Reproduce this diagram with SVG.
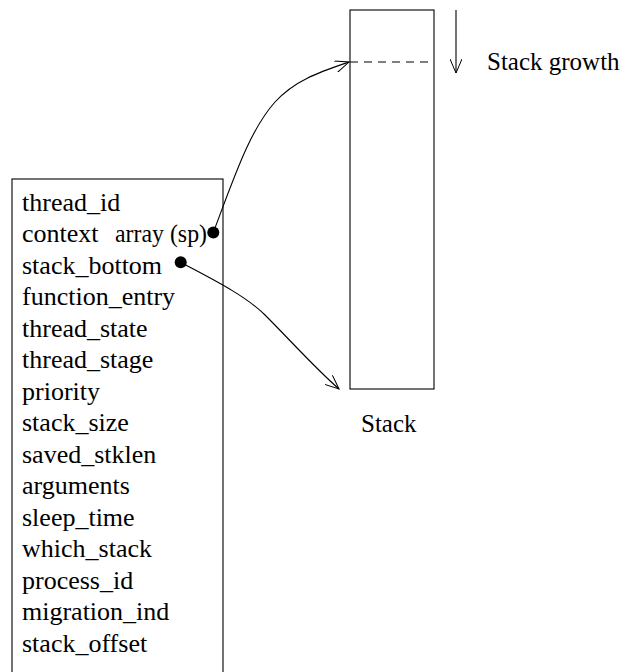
<svg xmlns="http://www.w3.org/2000/svg" width="624" height="672" viewBox="0 0 624 672">
<style>
text{font-family:"Liberation Serif","Times New Roman",serif;font-size:25px;fill:#000}
.f{font-size:26px}
.ln{fill:none;stroke:#000;stroke-width:1.1}
</style>
<defs>
<marker id="ah" markerWidth="16" markerHeight="12" refX="14" refY="6" orient="auto" markerUnits="userSpaceOnUse">
<path d="M0,0 L14,6 L0,12" fill="none" stroke="#000" stroke-width="1"/>
</marker>
</defs>
<rect width="624" height="672" fill="#fff"/>
<g id="thread-struct">
<rect x="12" y="179" width="211" height="510" class="ln"/>
<text class="f" x="22" y="210.5">thread_id</text>
<text class="f" x="22" y="242">context</text><text class="f" x="115" y="242" textLength="92" lengthAdjust="spacingAndGlyphs">array (sp)</text>
<text class="f" x="22" y="273.5">stack_bottom</text>
<text class="f" x="22" y="305">function_entry</text>
<text class="f" x="22" y="336.5">thread_state</text>
<text class="f" x="22" y="368">thread_stage</text>
<text class="f" x="22" y="399.5">priority</text>
<text class="f" x="22" y="431">stack_size</text>
<text class="f" x="22" y="462.5">saved_stklen</text>
<text class="f" x="22" y="494">arguments</text>
<text class="f" x="22" y="525.5">sleep_time</text>
<text class="f" x="22" y="557">which_stack</text>
<text class="f" x="22" y="588.5">process_id</text>
<text class="f" x="22" y="620">migration_ind</text>
<text class="f" x="22" y="651.5">stack_offset</text>
</g>
<g id="stack">
<rect x="350" y="10" width="84" height="379" class="ln"/>
<line x1="350" y1="62" x2="430" y2="62" class="ln" stroke-dasharray="8,6"/>
<text x="361" y="431.5">Stack</text>
</g>
<g id="growth">
<line x1="456" y1="10" x2="456" y2="73" class="ln" marker-end="url(#ah)"/>
<text x="487" y="70">Stack growth</text>
</g>
<g id="connectors">
<circle cx="213.3" cy="232.5" r="6" fill="#000"/>
<path d="M213.3,232.5 C235,175 250,130 275,102 C295,80 320,72 349,62" class="ln" marker-end="url(#ah)"/>
<circle cx="180.7" cy="262.3" r="6" fill="#000"/>
<path d="M180.7,262.3 C210,278 245,295 265,315 C290,340 315,368 339,389" class="ln" marker-end="url(#ah)"/>
</g>
</svg>
